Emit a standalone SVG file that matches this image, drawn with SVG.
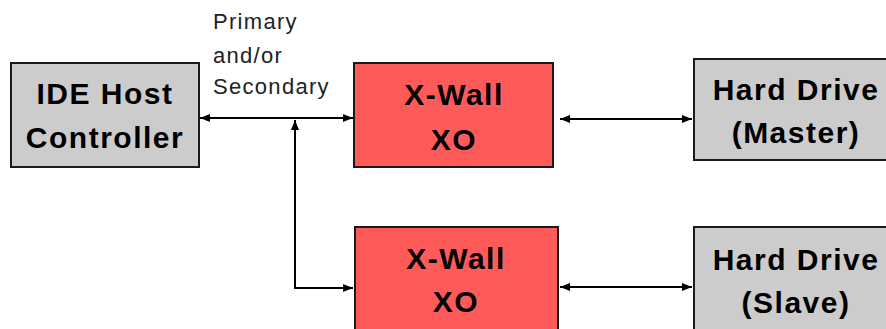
<svg xmlns="http://www.w3.org/2000/svg" width="886" height="329" viewBox="0 0 886 329">
<style>
.box{stroke:#1a1a1a;stroke-width:2}
.gray{fill:#cccccc}
.red{fill:#ff5a5a}
.t{font-family:"Liberation Sans",Arial,sans-serif;font-weight:bold;font-size:30px;fill:#000;text-anchor:middle;letter-spacing:1.5px}
.lbl{font-family:"Liberation Sans",Arial,sans-serif;font-size:22px;fill:#222;letter-spacing:1.3px}
.c{stroke:#000;stroke-width:2;fill:none;marker-start:url(#a);marker-end:url(#a)}
</style>
<defs>
<marker id="a" viewBox="0 0 10 8" refX="10" refY="4" markerWidth="10" markerHeight="8" markerUnits="userSpaceOnUse" orient="auto-start-reverse">
<path d="M0,0 L10,4 L0,8 Z" fill="#000"/>
</marker>
</defs>
<g id="connectors">
<line class="c" x1="200" y1="118" x2="353" y2="118"/>
<path class="c" d="M353,288 H295 V120"/>
<line class="c" x1="560" y1="119" x2="692" y2="119"/>
<line class="c" x1="560" y1="287" x2="692" y2="287"/>
</g>
<g id="label">
<text class="lbl" x="213" y="29">Primary</text>
<text class="lbl" x="213" y="63">and/or</text>
<text class="lbl" x="213" y="94">Secondary</text>
</g>
<g id="ide">
<rect class="box gray" x="11" y="63" width="188" height="104"/>
<text class="t" x="105" y="104">IDE Host</text>
<text class="t" x="105" y="148">Controller</text>
</g>
<g id="xwall1">
<rect class="box red" x="354" y="63" width="199" height="104"/>
<text class="t" x="454" y="105">X-Wall</text>
<text class="t" x="454" y="150">XO</text>
</g>
<g id="xwall2">
<rect class="box red" x="355" y="227" width="203" height="110"/>
<text class="t" x="456" y="269">X-Wall</text>
<text class="t" x="456" y="312">XO</text>
</g>
<g id="hd1">
<rect class="box gray" x="694" y="59" width="200" height="101"/>
<text class="t" x="796" y="100">Hard Drive</text>
<text class="t" x="796" y="143">(Master)</text>
</g>
<g id="hd2">
<rect class="box gray" x="694" y="227" width="200" height="110"/>
<text class="t" x="796" y="270">Hard Drive</text>
<text class="t" x="796" y="313">(Slave)</text>
</g>
</svg>
